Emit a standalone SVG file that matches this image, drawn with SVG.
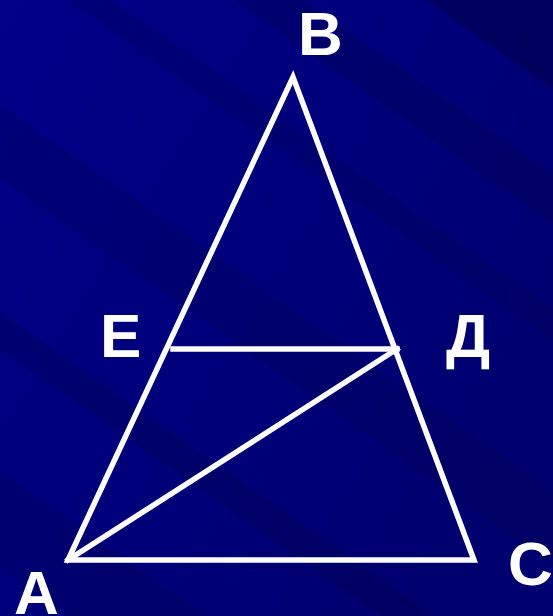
<svg xmlns="http://www.w3.org/2000/svg" width="553" height="616" viewBox="0 0 553 616">
<style>
.lbl{font-family:"Liberation Sans",Arial,sans-serif;font-weight:bold;font-size:62px;fill:#fff}
.ln{stroke:#fff;stroke-width:5.5;fill:none;stroke-linecap:square}
</style>
<defs>
<linearGradient id="bg" x1="0" y1="0" x2="1" y2="0.7">
<stop offset="0" stop-color="#000088"/>
<stop offset="1" stop-color="#00006e"/>
</linearGradient>
</defs>
<rect width="553" height="616" fill="url(#bg)"/>
<g transform="rotate(35 276 308)" fill="#000040">
<rect x="-300" y="-120" width="1200" height="90" opacity="0.45"/>
<rect x="-300" y="40" width="1200" height="40" opacity="0.25"/>
<rect x="-300" y="150" width="1200" height="25" opacity="0.2"/>
<rect x="-300" y="300" width="1200" height="60" opacity="0.2"/>
<rect x="-300" y="470" width="1200" height="30" opacity="0.25"/>
<rect x="-300" y="600" width="1200" height="80" opacity="0.2"/>
</g>
<g id="connectors">
<polygon class="ln" points="68,560 293,77 474,560"/>
<line class="ln" x1="173" y1="349" x2="397" y2="349"/>
<line class="ln" x1="68" y1="560" x2="397" y2="349"/>
</g>
<g id="B"><text class="lbl" x="298" y="55">B</text></g>
<g id="E"><text class="lbl" x="100" y="357">E</text></g>
<g id="D"><text class="lbl" x="446" y="357">Д</text></g>
<g id="A"><text class="lbl" x="14" y="614">A</text></g>
<g id="C"><text class="lbl" x="508" y="585">C</text></g>
</svg>
